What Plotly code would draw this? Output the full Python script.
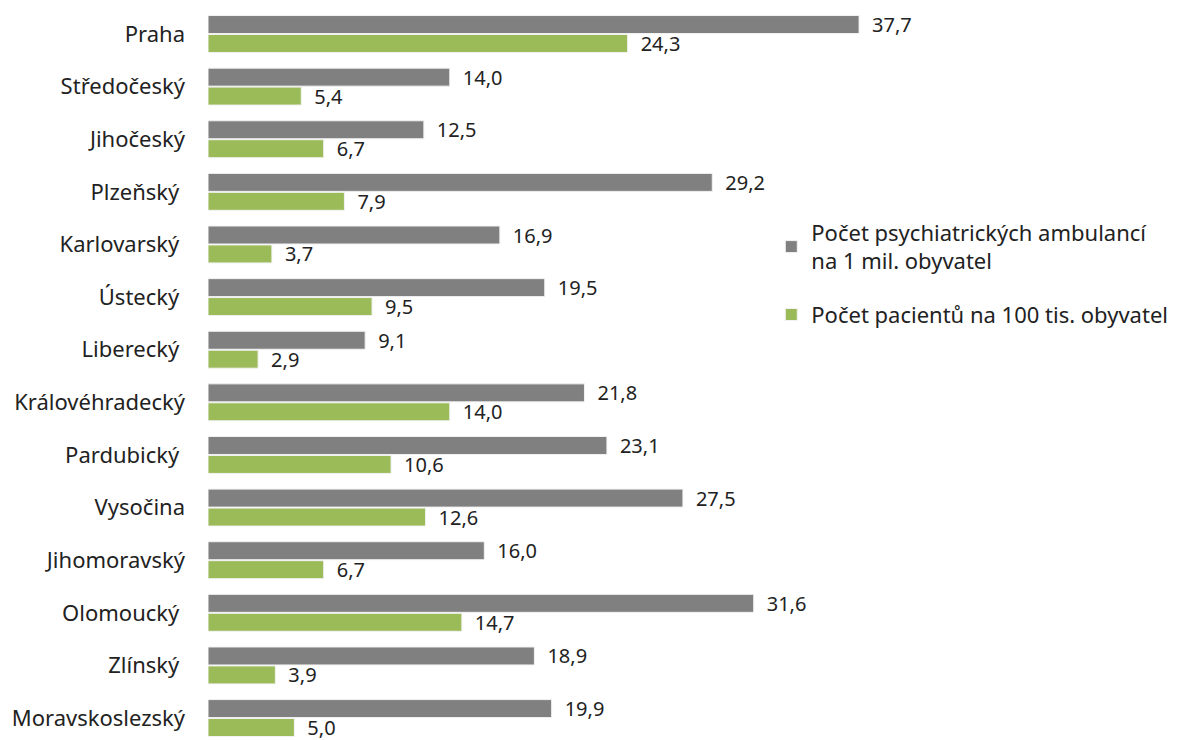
import plotly.graph_objects as go

regions = ["Praha", "Středočeský", "Jihočeský", "Plzeňský\u00a0", "Karlovarský\u00a0", "Ústecký\u00a0",
           "Liberecký\u00a0", "Královéhradecký", "Pardubický\u00a0", "Vysočina", "Jihomoravský",
           "Olomoucký\u00a0", "Zlínský\u00a0", "Moravskoslezský"]
ambulance = [37.7, 14.0, 12.5, 29.2, 16.9, 19.5, 9.1, 21.8, 23.1, 27.5, 16.0, 31.6, 18.9, 19.9]
pacienti = [24.3, 5.4, 6.7, 7.9, 3.7, 9.5, 2.9, 14.0, 10.6, 12.6, 6.7, 14.7, 3.9, 5.0]
series_names = ["Počet psychiatrických ambulancí<br>na 1 mil. obyvatel",
                "Počet pacientů na 100 tis. obyvatel"]

def fmt(v):
    return "\u2002" + f"{v:.1f}".replace(".", ",")

FONT = "Segoe UI, Noto Sans, Open Sans, sans-serif"
FS = 22
FS_VAL = 20

fig = go.Figure()
fig.add_trace(go.Bar(
    y=regions, x=ambulance, orientation="h", name=series_names[0], legendgroup="a",
    marker=dict(color="#808080", line=dict(color="#f2f2f2", width=1)),
    text=[fmt(v) for v in ambulance], textposition="outside", constraintext="none",
    textfont=dict(size=FS_VAL, color="#222"), cliponaxis=False,
))
fig.add_trace(go.Bar(
    y=regions, x=pacienti, orientation="h", name=series_names[1], legendgroup="b",
    marker=dict(color="#9BBB59", line=dict(color="#f2f2f2", width=1)),
    text=[fmt(v) for v in pacienti], textposition="outside", constraintext="none",
    textfont=dict(size=FS_VAL, color="#222"), cliponaxis=False,
))

fig.update_layout(
    width=1173, height=732,
    margin=dict(l=200, r=281, t=0, b=0, autoexpand=False),
    paper_bgcolor="white", plot_bgcolor="white",
    font=dict(family=FONT, size=FS, color="#222"),
    barmode="group", bargap=0.28, bargroupgap=0.05,
    showlegend=True,
    legend=dict(x=0.814, y=0.722, xanchor="left", yanchor="top",
                font=dict(size=FS, color="#222"), tracegroupgap=22,
                bgcolor="rgba(0,0,0,0)"),
)
fig.update_xaxes(range=[0, 40.07], showgrid=False, showticklabels=False,
                 zeroline=False, showline=False, ticks="", automargin=False)
fig.update_yaxes(range=[13.417, -0.494], showgrid=False, showline=False,
                 ticks="", automargin=False,
                 ticklabelstandoff=22, tickfont=dict(size=FS, color="#222"))

fig.write_html("out.html")
